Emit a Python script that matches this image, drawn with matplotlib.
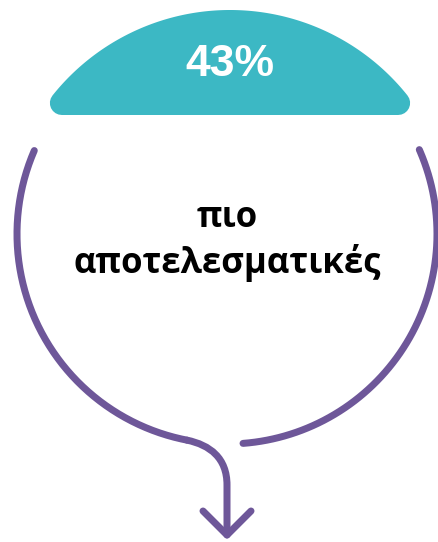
import numpy as np
import matplotlib.pyplot as plt
from matplotlib.path import Path
from matplotlib.patches import PathPatch, Polygon

# data
pct_value = 43
label_lines = ["πιο", "αποτελεσματικές"]

teal = "#3CB8C4"
purple = "#6E5799"

W, H = 439, 542
fig = plt.figure(figsize=(W / 100, H / 100), dpi=100)
ax = fig.add_axes([0, 0, 1, 1])
ax.set_xlim(0, W)
ax.set_ylim(H, 0)
ax.axis("off")

px = 0.72  # one pixel in points

# teal cap: top of a circle cut by a chord, corners rounded by a thick stroke
cx, cy, R, rc = 230, 237, 227, 12
y_cut = 115 - rc
r_in = R - rc
half = np.arccos((cy - y_cut) / r_in)
t = np.linspace(-np.pi / 2 - half, -np.pi / 2 + half, 200)
cap = np.column_stack([cx + r_in * np.cos(t), cy + r_in * np.sin(t)])
ax.add_patch(Polygon(cap, closed=True, facecolor=teal, edgecolor=teal,
                     linewidth=2 * rc * px, joinstyle="round"))

ax.text(cx, 65, f"{pct_value}%", color="white", fontsize=32, fontweight="bold",
        family="Liberation Sans", ha="center", va="center")

# purple ring split at the bottom, left part turns into an arrow
ox, oy, r = 227, 234, 210
lw = 7 * px

# right arc: from bottom (near 243,443) up to top right (423,148)
a0 = np.arctan2(443 - oy, 243 - ox)
a1 = np.arctan2(148 - oy, 423 - ox)
ta = np.linspace(a0, a1, 200)
ax.plot(ox + r * np.cos(ta), oy + r * np.sin(ta), color=purple, lw=lw,
        solid_capstyle="round")

# left arc: from top left (33,150) down to bottom (187,440)
b0 = np.arctan2(150 - oy, 33 - ox) + 2 * np.pi
b1 = np.arctan2(440 - oy, 187 - ox)
tb = np.linspace(b0, b1, 200)
xs = list(ox + r * np.cos(tb))
ys = list(oy + r * np.sin(tb))

# bend into the vertical shaft
verts = [(xs[-1], ys[-1]), (210, 445), (227, 458), (227, 485), (227, 535)]
codes = [Path.MOVETO, Path.CURVE4, Path.CURVE4, Path.CURVE4, Path.LINETO]
ax.plot(xs, ys, color=purple, lw=lw, solid_capstyle="round")
ax.add_patch(PathPatch(Path(verts, codes), facecolor="none", edgecolor=purple,
                       lw=lw, capstyle="round"))

# arrow head
ax.plot([203, 227, 251], [511, 535, 511], color=purple, lw=lw,
        solid_capstyle="round", solid_joinstyle="round")

ax.text(227, 227, label_lines[0], color="black", fontsize=25, fontweight="bold",
        family="Open Sans", ha="center", va="baseline")
ax.text(227, 273, label_lines[1], color="black", fontsize=25, fontweight="bold",
        family="Open Sans", ha="center", va="baseline")

fig.savefig("out.png", dpi=100)
